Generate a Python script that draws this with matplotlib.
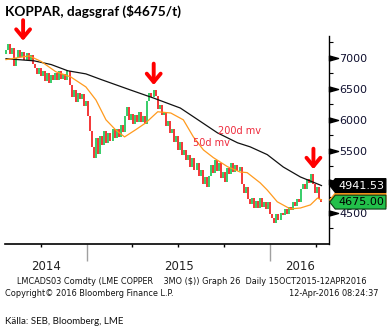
import numpy as np
import pandas as pd
import matplotlib
matplotlib.use("Agg")
import matplotlib.pyplot as plt
import matplotlib.dates as mdates
import matplotlib.transforms as mtransforms
from matplotlib.path import Path
from matplotlib.patches import Polygon

# closing prices, roughly every third trading day, 24 Jul 2014 - 12 Apr 2016
first_open = 7060
closes = [
    7120, 7220, 7060, 7150, 6870, 6990, 7130, 7020, 7090,
    6960, 7070, 6960, 7040, 6900, 6830, 6740, 6840, 6700,
    6780, 6620, 6760, 6600, 6720, 6640, 6760,
    6640, 6790, 6660, 6740, 6640, 6780, 6560,
    6360, 6480, 6290, 6440, 6330, 6410, 6220, 6300, 6060,
    5820, 5560, 5380, 5700, 5450, 5740,
    5600, 5820, 5620, 5780, 5660, 5850, 5700,
    5860, 5720, 5920, 5800, 6060, 6200, 6000,
    6100, 5940, 6080, 5960, 6120, 5960, 6060, 5940,
    6300, 6440, 6360, 6480, 6380, 6180, 6240, 6080,
    6120, 5900, 5980, 5780, 5860, 5640, 5740,
    5520, 5640, 5440, 5520, 5360, 5440, 5240, 5380,
    5200, 5300, 5100, 5200, 4960, 5080, 4920, 5100,
    5280, 5140, 5360, 5180, 5300, 5060, 5160,
    5000, 5220, 5120, 5300, 5160, 5280, 5180, 5240,
    4960, 4820, 4920, 4720, 4640, 4740, 4580,
    4700, 4580, 4740, 4600, 4680, 4560, 4680,
    4480, 4420, 4340, 4480, 4380, 4500, 4460,
    4560, 4480, 4600, 4540, 4680, 4620, 4720,
    4680, 4880, 4960, 4880, 5040, 4980, 5120, 4960,
    4820, 4920, 4720, 4675.00,
]
start_date = "2014-07-24"
end_date = "2016-04-12"

# 200 day moving average (black)
ma200_dates = ["2014-07-24", "2014-09-18", "2014-10-22", "2014-11-24", "2014-12-30",
               "2015-01-29", "2015-03-29", "2015-05-14", "2015-07-06", "2015-08-01",
               "2015-09-18", "2015-10-28", "2015-11-22", "2015-12-26", "2016-01-27",
               "2016-03-01", "2016-04-12"]
ma200_vals = [6985, 6950, 6890, 6790, 6740, 6650, 6480, 6350, 6190, 6050,
              5790, 5630, 5565, 5440, 5240, 5080, 4941.53]

# 50 day moving average (orange)
ma50_dates = ["2014-07-24", "2014-09-08", "2014-10-02", "2014-10-31", "2014-11-30",
              "2014-12-30", "2015-01-19", "2015-02-08", "2015-02-27", "2015-03-17",
              "2015-04-08", "2015-04-28", "2015-05-22", "2015-06-17", "2015-07-12",
              "2015-08-01", "2015-08-21", "2015-09-10", "2015-10-08", "2015-11-02",
              "2015-11-16", "2015-12-12", "2015-12-26", "2016-01-15", "2016-02-10",
              "2016-03-01", "2016-03-21", "2016-04-04", "2016-04-12"]
ma50_vals = [6970, 7030, 6940, 6775, 6690, 6530, 6320, 6000, 5840, 5725,
             5840, 5950, 6130, 6110, 6000, 5725, 5515, 5390, 5245, 5160,
             5150, 4985, 4870, 4680, 4565, 4580, 4630, 4740, 4710]

# red arrows marking the peaks: (date, tip price, tail price)
arrow_dates = ["2014-08-27", "2015-05-14", "2016-03-27"]
arrow_tips = [7230, 6516, 5161]
arrow_tails = [7650, 6950, 5580]

yticks = [4500, 5000, 5500, 6000, 6500, 7000]
ytick_labels = ["4500", "", "5500", "6000", "6500", "7000"]  # 5000 sits under the value box
minor_yticks = [4250, 4750, 5250, 5750, 6250, 6750, 7250]

dates = pd.date_range(start_date, end_date, periods=len(closes))
opens = [first_open] + closes[:-1]
up = [c >= o for o, c in zip(opens, closes)]
lo = np.minimum(opens, closes)
hi = np.maximum(opens, closes)

fig = plt.figure(figsize=(3.92, 3.31), dpi=100)
ax = fig.add_axes([0.0128, 0.2628, 0.8265, 0.6284])

red = "#f00000"
green = "#00c040"
ax.vlines(dates, lo, hi, colors=[green if u else red for u in up], lw=1.1, zorder=2)
ax.plot(pd.to_datetime(ma200_dates), ma200_vals, color="#111111", lw=0.9, zorder=3)
ax.plot(pd.to_datetime(ma50_dates), ma50_vals, color="#ff9a1e", lw=0.9, zorder=3)

ax.text(pd.Timestamp("2015-09-20"), 5822, "200d mv", color="#ee2a3c", fontsize=7, va="center")
ax.text(pd.Timestamp("2015-07-31"), 5629, "50d mv", color="#ee2a3c", fontsize=7, va="center")

for d, tip, tail in zip(arrow_dates, arrow_tips, arrow_tails):
    ax.annotate("", xy=(pd.Timestamp(d), tip), xytext=(pd.Timestamp(d), tail),
                arrowprops=dict(arrowstyle="->,head_length=0.6,head_width=0.5",
                                color="#ff0000", lw=2.8),
                annotation_clip=False)

ax.set_xlim(pd.Timestamp("2014-07-22"), pd.Timestamp("2016-04-27"))
ax.set_ylim(4000, 7350)

# axes styling
for s in ["left", "top"]:
    ax.spines[s].set_visible(False)
ax.spines["right"].set_linewidth(1.0)
ax.spines["bottom"].set_linewidth(1.2)

ax.yaxis.tick_right()
ax.set_yticks(yticks, ytick_labels)
ax.set_yticks(minor_yticks, minor=True)
ax.tick_params(axis="y", which="major", length=0, pad=7.5, labelsize=8, labelcolor="#101030")
ax.tick_params(axis="y", which="minor", length=3, width=0.8, direction="out")

tri = Path([(0, -0.28), (1, 0), (0, 0.28), (0, -0.28)],
           [Path.MOVETO, Path.LINETO, Path.LINETO, Path.CLOSEPOLY])
ytrans = mtransforms.blended_transform_factory(ax.transAxes, ax.transData)
ax.plot([1.0] * len(yticks), yticks, ls="none", marker=tri, ms=13, color="black",
        transform=ytrans, clip_on=False, zorder=4)

ax.xaxis.set_major_locator(mdates.YearLocator())
ax.xaxis.set_minor_locator(mdates.MonthLocator(bymonth=[4, 7, 10]))
ax.tick_params(axis="x", which="major", length=12, width=1, color="#a0a0a0", labelbottom=False)
ax.tick_params(axis="x", which="minor", length=2.5, width=1, color="black")

# year labels centred in the visible part of each year
x0, x1 = ax.get_xlim()
bounds = [x0, mdates.date2num(pd.Timestamp("2015-01-01")),
          mdates.date2num(pd.Timestamp("2016-01-01")), x1]
xtrans = mtransforms.blended_transform_factory(ax.transData, ax.transAxes)
for lab, a, b in zip(["2014", "2015", "2016"], bounds[:-1], bounds[1:]):
    ax.text((a + b) / 2, -0.106, lab, transform=xtrans, ha="center", va="center",
            fontsize=8.5, color="#222222")

# last value boxes on the right axis
def value_box(val, face, edge, txtcolor, label=None):
    k = fig.dpi / 72.0
    tr = mtransforms.Affine2D().scale(k) + mtransforms.ScaledTranslation(1.0, val, ytrans)
    pts = [(0.5, 0), (4.5, 5), (41, 5), (41, -5), (4.5, -5)]
    ax.add_patch(Polygon(pts, closed=True, facecolor=face, edgecolor=edge, lw=0.8,
                         transform=tr, clip_on=False, zorder=6))
    if label:
        ax.text(6.5, 0, label, transform=tr, color=txtcolor, fontsize=8,
                va="center", ha="left", clip_on=False, zorder=7)

value_box(ma50_vals[-1], "#ff9a1e", "#ff9a1e", "black")
value_box(ma200_vals[-1], "black", "black", "white", f"{ma200_vals[-1]:.2f}")
value_box(closes[-1], "#22c04a", "#0a3a14", "black", f"{closes[-1]:.2f}")

# title and footer
fig.text(0.013, 1 - 11 / 331, "KOPPAR, dagsgraf ($4675/t)", fontsize=9.8,
         fontweight="bold", family=["Lato", "DejaVu Sans"], va="center")
fig.text(17 / 392, 1 - 281 / 331,
         "LMCADS03 Comdty (LME COPPER    3MO ($)) Graph 26  Daily 15OCT2015-12APR2016",
         fontsize=5.9, va="center", color="#111111")
fig.text(5 / 392, 1 - 293 / 331, "Copyright\u00a9 2016 Bloomberg Finance L.P.",
         fontsize=5.9, va="center", color="#111111")
fig.text(378 / 392, 1 - 293 / 331, "12-Apr-2016 08:24:37", fontsize=5.9,
         va="center", ha="right", color="#111111")
fig.text(5 / 392, 1 - 321 / 331, "Källa: SEB, Bloomberg, LME", fontsize=7,
         family=["Lato", "DejaVu Sans"], va="center", color="#111111")

fig.savefig("out.png", dpi=100)
